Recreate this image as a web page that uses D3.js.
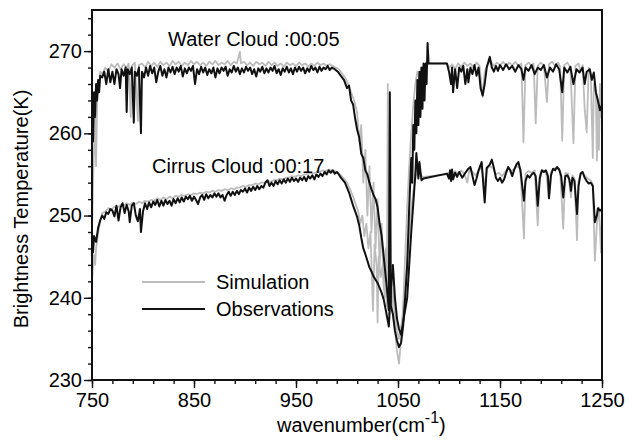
<!DOCTYPE html>
<html>
<head>
<meta charset="utf-8">
<script src="https://cdn.jsdelivr.net/npm/d3@7"></script>
<style>
  html, body { margin: 0; padding: 0; background: #fff; }
  svg { display: block; font-family: 'Liberation Sans', Arial, sans-serif; }
</style>
</head>
<body>
<svg width="632" height="442"></svg>
<script>
// brightness temperature spectra, [wavenumber, K]
const xTicks = [750, 850, 950, 1050, 1150, 1250]
const yTicks = [230, 240, 250, 260, 270]

const waterObs = [
  [750, 263], [751, 259], [752, 265], [753, 262], [754, 266], [755, 264], [756, 266.5], [757, 265], [758, 267],
  [760, 266.8], [762, 267.5], [764, 266], [766, 267.8], [768, 266.2], [770, 267.5], [772, 266], [774, 267.8],
  [776, 267.2], [777.5, 265.5], [779, 267.8], [781, 267], [783, 268], [784, 262.6], [785, 267.8], [787, 267.2],
  [789, 268], [791, 261.3], [792, 267.5], [794, 267], [796, 268], [798, 260], [799, 267.5], [801, 266.8],
  [803, 268], [805, 267], [807, 268.2], [809, 267.3], [811, 268], [813, 266.2], [815, 267.5], [817, 268.2],
  [819, 267], [821, 267.8], [823, 266.8], [825, 268], [827, 267.4], [829, 268.1], [831, 267.2], [833, 268],
  [835, 267.5], [837, 268.2], [839, 266.9], [841, 267.9], [843, 267.3], [845, 268], [847, 267.6], [849, 268.2],
  [851, 266], [853, 267.8], [855, 267.2], [857, 268.1], [859, 267.4], [861, 268], [863, 267.1], [865, 267.8],
  [867, 267.3], [869, 268], [871, 266.8], [873, 267.9], [875, 267.3], [877, 268], [879, 267.6], [881, 268.1],
  [883, 267], [885, 267.8], [887, 267.4], [889, 268.2], [891, 267.5], [893, 268], [895, 267.2], [897, 267.9],
  [899, 267.4], [901, 268.1], [903, 267.6], [905, 268], [907, 267.2], [909, 267.8], [911, 266.9], [913, 267.9],
  [915, 267.5], [917, 268.1], [919, 267.3], [921, 267.9], [923, 267.4], [925, 268], [927, 267.6], [929, 268.2],
  [931, 267.3], [933, 267.8], [935, 267.1], [937, 267.9], [939, 267.5], [941, 268.1], [943, 267.4], [945, 267.9],
  [947, 267.2], [949, 268], [951, 267.5], [953, 268.1], [955, 267.6], [957, 268], [959, 267.3], [961, 267.9],
  [963, 267.5], [965, 268.2], [967, 267.7], [969, 268], [971, 267.4], [973, 268.1], [975, 267.6], [977, 268],
  [979, 267.8], [981, 268.2], [983, 267.7], [985, 268], [988, 267.8], [991, 267.5], [994, 267], [997, 266.5],
  [1000, 265.5], [1002, 265.8], [1004, 264], [1006, 263.5], [1008, 261.8], [1010, 260.4], [1012, 259.5],
  [1014, 257.5], [1016, 257], [1018, 255.5], [1020, 255], [1022, 254], [1024, 253.2], [1026, 252.5],
  [1028, 252], [1030, 251], [1032, 249], [1034, 247.5], [1036, 245], [1038, 242.5], [1040, 240], [1041, 238.5],
  [1042, 265], [1043, 239], [1045, 238], [1047, 236], [1049, 234.8], [1051, 234], [1053, 234.5], [1055, 236.5],
  [1057, 240], [1059, 244], [1061, 251], [1063, 257], [1064, 254], [1065, 261], [1066, 258], [1067, 264],
  [1068, 260], [1069, 266.5], [1070, 261], [1071, 267.5], [1072, 262], [1073, 268], [1074, 263], [1075, 268.5],
  [1076, 264], [1077, 268.5], [1078, 266], [1079, 271], [1080, 268.5], [1098, 268.5], [1100, 267.5], [1102, 266],
  [1103, 268], [1104, 265], [1106, 267.8], [1108, 265.5], [1110, 268], [1112, 267.5], [1114, 268.2], [1116, 266],
  [1118, 267.8], [1119, 266.2], [1121, 268], [1123, 267.2], [1125, 268.3], [1127, 267], [1129, 268], [1131, 265.5],
  [1133, 264.6], [1135, 266], [1137, 268], [1140, 269.3], [1142, 268], [1144, 267.5], [1146, 268.2], [1148, 267.6],
  [1150, 268.3], [1153, 267.7], [1156, 268.4], [1159, 267.8], [1162, 268.2], [1165, 267.5], [1168, 268.3],
  [1171, 267.8], [1173, 266.5], [1175, 268], [1178, 267.6], [1181, 268.3], [1184, 267.2], [1187, 268], [1190, 267.7],
  [1193, 268.3], [1196, 266.8], [1199, 268], [1202, 267.5], [1205, 268.4], [1208, 267.8], [1211, 265], [1213, 268],
  [1216, 267.4], [1219, 268.1], [1222, 266], [1225, 267.8], [1228, 267.4], [1231, 268], [1233, 266], [1235, 267.5],
  [1238, 267.8], [1240, 266.5], [1242, 267.4], [1244, 265], [1246, 264], [1248, 262.8], [1250, 263.5]
]

const waterSim = [
  [750, 248], [751, 254], [752, 258], [753, 262], [754, 256], [755, 264], [756, 266], [757, 265.5], [758, 267.5],
  [760, 267.2], [763, 268], [766, 267.5], [769, 268.4], [772, 268], [775, 268.5], [778, 267.8], [781, 268.4],
  [784, 268], [786, 268.5], [788, 262], [789, 268.2], [792, 268.6], [795, 261.5], [796, 268.3], [799, 268.5],
  [802, 268], [805, 268.7], [808, 268.2], [811, 268.6], [814, 268.1], [817, 268.7], [820, 268.3], [823, 268.6],
  [826, 268.2], [829, 268.8], [832, 268.4], [835, 268.7], [838, 268.2], [841, 268.6], [844, 268.3], [847, 268.8],
  [850, 268.4], [853, 268.7], [856, 268.3], [859, 268.6], [862, 268.2], [865, 268.7], [868, 268.4], [871, 268.8],
  [874, 268.3], [877, 268.6], [880, 268.4], [883, 268.8], [886, 268.3], [889, 268.7], [892, 268.5], [895, 269.9],
  [896, 268.5], [899, 268.7], [902, 268.3], [905, 268.6], [908, 268.2], [911, 268.7], [914, 268.4], [917, 268.6],
  [920, 268.2], [923, 268.7], [926, 268.3], [929, 268.6], [932, 268.2], [935, 268.5], [938, 268.1], [941, 268.6],
  [944, 268.3], [947, 268.5], [950, 268.2], [953, 268.6], [956, 268.3], [959, 268.5], [962, 268.1], [965, 268.5],
  [968, 268.2], [971, 268.6], [974, 268.3], [977, 268.5], [980, 268.2], [983, 268.4], [986, 268.2], [989, 268],
  [992, 267.8], [995, 267.3], [998, 266.8], [1001, 266], [1004, 265], [1007, 264], [1010, 262.5], [1012, 259],
  [1014, 261], [1016, 254], [1018, 258], [1020, 250], [1022, 256], [1024, 248], [1026, 254], [1028, 246],
  [1030, 252], [1032, 244], [1034, 249], [1036, 241], [1038, 246], [1039, 239], [1040, 266], [1041, 240],
  [1043, 243], [1045, 238], [1047, 236], [1049, 233.5], [1051, 232], [1053, 235], [1055, 239], [1057, 245],
  [1059, 251], [1061, 256], [1063, 260], [1065, 263.5], [1067, 266], [1069, 267.5], [1071, 266.5], [1073, 268],
  [1075, 267], [1077, 268.5], [1080, 268.5], [1098, 268.5], [1100, 268], [1103, 268.4], [1106, 267.8],
  [1109, 268.5], [1112, 268.1], [1115, 268.6], [1118, 268.2], [1121, 268.5], [1124, 268], [1127, 268.6],
  [1130, 268.2], [1133, 264.4], [1135, 267.5], [1138, 268.4], [1141, 268.8], [1144, 268.2], [1147, 268.6],
  [1150, 268.3], [1153, 268.7], [1156, 268.2], [1159, 268.6], [1162, 268.3], [1165, 268.7], [1168, 268.2],
  [1171, 268.5], [1173, 258.9], [1175, 268.3], [1178, 268.6], [1181, 268.2], [1183, 268.5], [1185, 261.2],
  [1187, 268.2], [1190, 268.6], [1193, 268.3], [1196, 263.8], [1198, 268.4], [1201, 268.7], [1204, 268.2],
  [1207, 268.6], [1209, 268.1], [1211, 259.1], [1213, 268.3], [1216, 268.6], [1219, 268], [1222, 258.8],
  [1224, 268.2], [1227, 268.5], [1229, 267.5], [1231, 268.3], [1233, 263], [1235, 260.1], [1237, 268],
  [1239, 267.2], [1241, 257], [1242, 266], [1244, 265], [1245, 256.7], [1246, 264], [1247, 258], [1248, 266],
  [1249, 262], [1250, 265]
]

const cirrusObs = [
  [750, 246], [751, 245.5], [752, 247.5], [754, 246.8], [756, 248.5], [758, 249.4], [760, 250], [762, 249.6],
  [764, 250.4], [766, 250.2], [768, 250.8], [770, 250.6], [772, 249.9], [774, 251.2], [776, 249.4], [778, 251],
  [780, 251.5], [782, 250.3], [784, 251.3], [786, 250.5], [787, 249.2], [789, 251.2], [791, 251.5], [793, 250],
  [795, 249.3], [797, 250.8], [798, 248], [800, 250.5], [802, 251.5], [804, 250.8], [806, 251.6], [808, 251],
  [810, 251.7], [812, 251.3], [814, 251.9], [816, 251.1], [818, 251.8], [820, 251.2], [822, 251.9], [824, 251.4],
  [826, 251.8], [828, 251.2], [830, 252], [832, 251.5], [834, 252.1], [836, 251.6], [838, 252.2], [840, 251.7],
  [842, 252.3], [844, 252], [846, 252.4], [848, 251.8], [850, 252.3], [852, 251.9], [854, 251.4], [856, 252.2],
  [858, 252.5], [860, 251.9], [862, 252.6], [864, 252.1], [866, 252.5], [868, 252.2], [870, 252.7], [872, 252.3],
  [874, 252.7], [876, 252.2], [878, 252.5], [880, 251.8], [882, 252.5], [884, 252.9], [886, 252.4], [888, 252.9],
  [890, 252.5], [892, 253], [894, 252.6], [896, 253.1], [898, 252.9], [900, 253.3], [902, 252.8], [904, 253.4],
  [906, 253], [908, 253.5], [910, 253.1], [912, 253.6], [914, 253.2], [916, 253.6], [918, 253.4], [920, 254],
  [922, 254.3], [924, 253.6], [926, 254], [928, 253.6], [930, 254.2], [932, 253.8], [934, 254.3], [936, 253.9],
  [938, 254.4], [940, 254], [942, 254.5], [944, 254.1], [946, 254.6], [948, 254.2], [950, 254.5], [952, 254.1],
  [954, 254.6], [956, 254.3], [958, 254.7], [960, 254.2], [962, 254.8], [964, 254.5], [966, 254.9], [968, 254.4],
  [970, 255], [972, 254.7], [974, 255.1], [976, 254.8], [978, 255.3], [980, 255], [982, 255.5], [984, 255.2],
  [986, 255.5], [988, 255.1], [990, 255.3], [992, 255], [994, 254.6], [996, 254.3], [998, 254], [1000, 253.4],
  [1002, 252.8], [1004, 252], [1006, 251.2], [1008, 250.5], [1010, 249.8], [1012, 248.8], [1014, 247.3],
  [1016, 246], [1018, 245.3], [1020, 244.5], [1022, 243.7], [1024, 243.2], [1026, 242.6], [1028, 242.2],
  [1030, 241.8], [1032, 241.2], [1034, 240.6], [1036, 239.8], [1038, 238.5], [1040, 237.2], [1041, 236.5],
  [1043, 241], [1045, 244], [1047, 240], [1049, 237.5], [1051, 236.2], [1053, 235.5], [1055, 237], [1057, 238.5],
  [1059, 240], [1061, 244], [1063, 248], [1065, 251.5], [1067, 255], [1068, 257.6], [1070, 254.5], [1071, 256.5],
  [1073, 254.3], [1075, 254.5], [1098, 255.1], [1100, 254.5], [1101, 255.5], [1102, 254.2], [1103, 255.6],
  [1104, 254.4], [1106, 255.2], [1108, 254.7], [1110, 255.3], [1113, 254.6], [1116, 255.2], [1119, 255.7],
  [1121, 255.9], [1123, 254.8], [1125, 253.7], [1127, 254.5], [1129, 255.5], [1132, 256.5], [1135, 251.6],
  [1137, 255.8], [1140, 256.2], [1142, 256.8], [1144, 255.8], [1146, 254.6], [1148, 254.2], [1150, 254.6],
  [1152, 254], [1154, 254.4], [1156, 255.2], [1158, 255.9], [1160, 255.5], [1162, 254.8], [1164, 255.6],
  [1166, 256.2], [1168, 256.5], [1170, 255.5], [1171, 254.5], [1173.5, 251.8], [1175, 254.2], [1177, 254.9],
  [1179, 254.6], [1181, 255], [1183, 255.2], [1185, 254.8], [1187, 251.2], [1189, 254.5], [1191, 255.5],
  [1193, 255.3], [1195, 255.5], [1197, 254.8], [1198, 252.1], [1200, 254.9], [1202, 255.7], [1204, 255.5],
  [1206, 255.9], [1208, 255.6], [1210, 254.8], [1212, 252.2], [1214, 254.8], [1216, 254.9], [1218, 254.4],
  [1219.6, 253], [1221, 254.6], [1223, 254.2], [1225.5, 250.2], [1227, 253.6], [1229, 255.1], [1231, 255.3],
  [1233, 254.6], [1235, 254.2], [1237, 253.9], [1239, 254], [1241, 253.6], [1243, 249.2], [1245, 250],
  [1246, 250.9], [1248, 250.6], [1250, 250.8]
]

const cirrusSim = [
  [750, 242], [751, 244], [752, 245.2], [753, 244], [754, 246], [756, 247.8], [758, 249.3], [760, 250.3],
  [763, 250.5], [766, 250.9], [769, 250.7], [772, 251.1], [775, 251], [778, 251.3], [781, 251.2], [784, 251.5],
  [787, 251.3], [790, 251.6], [793, 251.4], [796, 251.7], [799, 251.5], [802, 251.8], [805, 251.7], [808, 251.9],
  [811, 251.8], [814, 252.1], [817, 251.9], [820, 252.2], [823, 252], [826, 252.3], [829, 252.1], [832, 252.4],
  [835, 252.3], [838, 252.5], [841, 252.4], [844, 252.6], [847, 252.5], [850, 252.7], [853, 252.6], [856, 252.8],
  [859, 252.7], [862, 252.9], [865, 252.8], [868, 253], [871, 252.9], [874, 253.1], [877, 253], [880, 253.2],
  [883, 253.1], [886, 253.3], [889, 253.2], [892, 253.4], [895, 253.4], [898, 253.6], [901, 253.5], [904, 253.7],
  [907, 253.7], [910, 253.9], [913, 253.8], [916, 254], [919, 254], [922, 254.2], [925, 254.1], [928, 254.3],
  [931, 254.3], [934, 254.5], [937, 254.4], [940, 254.6], [943, 254.6], [946, 254.8], [949, 254.7], [952, 254.9],
  [955, 254.8], [958, 255], [961, 255], [964, 255.2], [967, 255.1], [970, 255.3], [973, 255.3], [976, 255.5],
  [979, 255.4], [982, 255.6], [985, 255.5], [988, 255.4], [991, 255.2], [994, 254.9], [997, 254.5], [1000, 254],
  [1003, 253.2], [1006, 252.3], [1009, 251.2], [1011, 250.5], [1013, 249], [1015, 250], [1017, 247.5],
  [1019, 249], [1021, 246], [1023, 248], [1025.5, 238.4], [1027, 246.5], [1029, 244], [1030, 237], [1031, 245],
  [1033, 242.5], [1035, 244], [1037, 240], [1039, 241.5], [1041, 238], [1043, 243], [1045, 241], [1047, 238],
  [1049, 236], [1051, 235], [1053, 236.5], [1055, 238], [1057, 241], [1059, 244], [1061, 247.5], [1063, 250.5],
  [1065, 253], [1067, 254.5], [1069, 255.5], [1071, 255], [1073, 254.8], [1075, 254.7], [1098, 255],
  [1100, 255.2], [1103, 254.8], [1106, 255.4], [1109, 255], [1112, 255.5], [1115, 255.1], [1118, 254],
  [1120, 255.6], [1123, 255.3], [1126, 254.9], [1129, 255.4], [1132, 255.9], [1135, 253.5], [1137, 255.6],
  [1140, 256], [1143, 255.8], [1146, 255], [1149, 255.2], [1152, 254.8], [1155, 255.3], [1158, 255.8],
  [1161, 255.4], [1164, 255.7], [1167, 256], [1170, 255.6], [1173.5, 247.2], [1175, 255.1], [1178, 255.4],
  [1181, 255.2], [1184, 255.5], [1187, 248.8], [1189, 255], [1192, 255.5], [1195, 255.4], [1198, 252.2],
  [1200, 255.3], [1203, 255.7], [1206, 255.8], [1209, 255.4], [1212, 248.4], [1214, 255.2], [1217, 255.1],
  [1219.6, 252.2], [1221, 254.9], [1223, 254.5], [1225.5, 247], [1227, 254.2], [1230, 255.3], [1233, 254.9],
  [1236, 254.5], [1239, 254.3], [1241, 253.8], [1243, 244.5], [1245, 249], [1247, 251], [1249, 245.5],
  [1250, 250]
]

const simColor = '#bcbcbc'
const obsColor = '#111'

const svg = d3.select('svg')
const chartWidth = 632
const chartHeight = 442
const marginLeft = 92
const marginRight = 30
const marginTop = 10
const marginBottom = 62
const plotWidth = chartWidth - marginLeft - marginRight
const plotHeight = chartHeight - marginTop - marginBottom

const xScale = d3.scaleLinear().domain([750, 1250]).range([0, plotWidth])
const yScale = d3.scaleLinear().domain([230, 275]).range([plotHeight, 0])

const plot = svg.append('g').attr('transform', `translate(${marginLeft}, ${marginTop})`)

plot.append('clipPath')
    .attr('id', 'clip')
    .append('rect')
    .attr('width', plotWidth)
    .attr('height', plotHeight)

const line = d3.line()
    .x((d) => xScale(d[0]))
    .y((d) => yScale(d[1]))

const dataContainer = plot.append('g').attr('clip-path', 'url(#clip)')
;[waterSim, cirrusSim].forEach((s) => {
    dataContainer.append('path')
        .datum(s)
        .attr('d', line)
        .attr('fill', 'none')
        .attr('stroke', simColor)
        .attr('stroke-width', 1.8)
        .attr('stroke-linejoin', 'round')
})
;[waterObs, cirrusObs].forEach((s) => {
    dataContainer.append('path')
        .datum(s)
        .attr('d', line)
        .attr('fill', 'none')
        .attr('stroke', obsColor)
        .attr('stroke-width', 2)
        .attr('stroke-linejoin', 'round')
})

// minor ticks
const xAxisMinor = d3.axisBottom(xScale)
    .tickValues(d3.range(750, 1251, 20))
    .tickSize(4)
    .tickFormat('')
const yAxisMinor = d3.axisLeft(yScale)
    .tickValues(d3.range(230, 275.1, 2))
    .tickSize(4)
    .tickFormat('')

const xAxis = d3.axisBottom(xScale).tickValues(xTicks).tickSize(8).tickPadding(5).tickFormat(d3.format('d'))
const yAxis = d3.axisLeft(yScale).tickValues(yTicks).tickSize(8).tickPadding(2).tickFormat(d3.format('d'))

const styleAxis = (g) => {
    g.select('.domain').remove()
    g.selectAll('.tick line').attr('stroke', '#111').attr('stroke-width', 1.4)
    g.selectAll('.tick text')
        .attr('fill', '#000')
        .style('font-size', '20px')
        .style('font-family', "'Liberation Sans', Arial, sans-serif")
}

plot.append('g').attr('transform', `translate(0, ${plotHeight})`).call(xAxisMinor).call(styleAxis)
plot.append('g').call(yAxisMinor).call(styleAxis)
plot.append('g').attr('transform', `translate(0, ${plotHeight})`).call(xAxis).call(styleAxis)
plot.append('g').call(yAxis).call(styleAxis)

plot.append('rect')
    .attr('width', plotWidth)
    .attr('height', plotHeight)
    .attr('fill', 'none')
    .attr('stroke', '#111')
    .attr('stroke-width', 2)

// labels
svg.append('text')
    .attr('transform', 'translate(28, 209) rotate(-90)')
    .attr('text-anchor', 'middle')
    .attr('font-size', 20)
    .attr('fill', '#000')
    .text('Brightness Temperature(K)')

const xTitle = svg.append('text')
    .attr('x', 277)
    .attr('y', 432)
    .attr('font-size', 20)
    .attr('fill', '#000')
xTitle.append('tspan').text('wavenumber(cm')
xTitle.append('tspan').attr('dy', -9).attr('font-size', 16).text('-1')
xTitle.append('tspan').attr('dy', 9).text(')')

svg.append('text')
    .attr('x', 168)
    .attr('y', 46)
    .attr('font-size', 20)
    .attr('fill', '#000')
    .text('Water Cloud :00:05')

svg.append('text')
    .attr('x', 152)
    .attr('y', 173)
    .attr('font-size', 20)
    .attr('fill', '#000')
    .text('Cirrus Cloud :00:17')

// legend
const legendItems = [
    { label: 'Simulation', color: simColor, y: 282 },
    { label: 'Observations', color: obsColor, y: 309 },
]
const legend = svg.append('g').attr('class', 'legend-container')
legend.selectAll('g.legend-item')
    .data(legendItems)
    .enter()
    .append('g')
    .attr('class', 'legend-item')
    .each(function (d) {
        const g = d3.select(this)
        g.append('line')
            .attr('x1', 142)
            .attr('x2', 205)
            .attr('y1', d.y)
            .attr('y2', d.y)
            .attr('stroke', d.color)
            .attr('stroke-width', 2.2)
        g.append('text')
            .attr('x', 216)
            .attr('y', d.y + 7)
            .attr('font-size', 20)
            .attr('fill', '#000')
            .text(d.label)
    })
</script>
</body>
</html>
